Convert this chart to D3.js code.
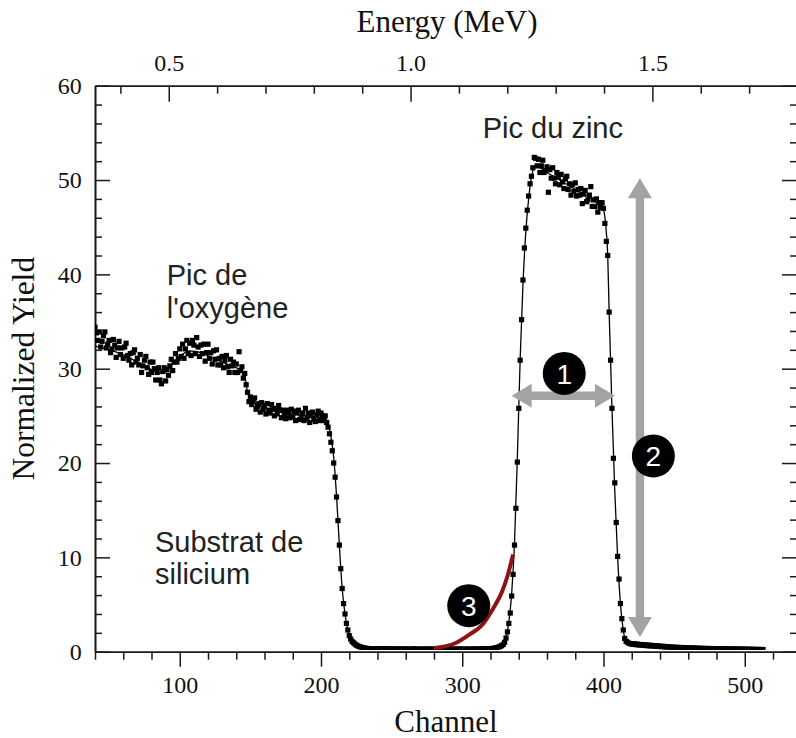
<!DOCTYPE html>
<html><head><meta charset="utf-8">
<script src="https://cdn.jsdelivr.net/npm/d3@7"></script>
<style>
html,body{margin:0;padding:0;background:#fff;}
svg{display:block;}
</style></head>
<body>
<script>
// ---- Data ----
const firstChannel = 40;
const yieldValues = [
// 40-49
34.4,33.8,33.0,33.9,32.3,32.9,33.5,33.9,32.2,32.6,
// 50-59
33.0,31.7,32.1,33.1,32.5,31.2,32.2,32.9,31.5,32.2,
// 60-69
31.1,32.3,32.7,31.4,30.9,31.6,30.4,31.7,32.0,30.7,
// 70-79
31.1,30.4,31.5,29.6,30.3,30.9,31.3,30.1,29.4,30.7,
// 80-89
29.6,30.7,30.0,28.8,29.6,30.1,28.8,28.4,29.7,30.1,
// 90-99
28.7,29.9,29.3,30.3,31.0,29.8,30.7,31.6,30.7,31.1,
// 100-109
32.1,31.3,32.6,31.1,32.1,33.0,31.6,32.7,31.4,33.0,
// 110-119
32.5,31.6,33.3,32.3,31.3,32.5,31.6,32.6,30.8,31.7,
// 120-129
32.6,31.1,31.7,30.5,31.9,31.0,32.0,30.4,31.1,30.4,
// 130-139
31.3,30.1,30.9,31.4,30.2,29.6,31.0,30.3,30.7,29.6,
// 140-149
30.5,29.6,31.8,29.8,30.2,29.0,29.5,28.3,27.5,26.5,
// 150-159
27.0,26.2,26.6,26.9,25.7,26.0,26.3,25.4,26.4,25.7,
// 160-169
26.1,25.2,26.3,25.6,25.3,26.2,25.7,25.0,25.8,25.2,
// 170-179
26.1,25.6,24.8,25.6,25.1,24.7,25.6,25.3,24.8,25.7,
// 180-189
24.9,25.5,24.5,25.3,25.6,24.6,24.9,25.3,24.5,25.8,
// 190-199
24.7,25.3,24.3,25.0,25.4,24.6,24.4,25.1,25.5,24.5,
// 200-209
25.3,25.0,24.5,25.0,24.3,23.8,23.1,22.2,21.3,20.0,
// 210-219
18.5,16.4,13.9,11.3,8.8,6.7,5.1,4.0,3.0,2.3,
// 220-229
1.7,1.35,1.1,0.95,0.82,0.7,0.62,0.55,0.5,0.45,
// 230-239
0.42,0.38,0.36,0.33,0.32,0.3,0.28,0.3,0.27,0.25,
// 240-249
0.30,0.27,0.31,0.26,0.29,0.32,0.25,0.28,0.30,0.26,
// 250-259
0.29,0.24,0.28,0.31,0.25,0.27,0.30,0.23,0.28,0.26,
// 260-269
0.30,0.25,0.27,0.24,0.29,0.26,0.31,0.24,0.27,0.25,
// 270-279
0.28,0.23,0.26,0.29,0.24,0.27,0.25,0.30,0.23,0.26,
// 280-289
0.28,0.24,0.26,0.29,0.23,0.27,0.25,0.28,0.24,0.26,
// 290-299
0.29,0.23,0.27,0.25,0.28,0.24,0.26,0.30,0.25,0.27,
// 300-309
0.24,0.28,0.26,0.23,0.29,0.25,0.27,0.24,0.30,0.26,
// 310-319
0.28,0.25,0.31,0.27,0.29,0.26,0.32,0.28,0.30,0.33,
// 320-329
0.31,0.35,0.33,0.38,0.41,0.45,0.5,0.58,0.65,0.78,
// 330-339
1.0,1.45,2.1,3.0,4.1,5.9,8.2,11.3,15.2,20.1,
// 340-349
25.8,30.9,35.2,39.4,42.8,44.9,46.8,48.3,49.6,50.4,
// 350-359
51.3,52.4,52.3,51.5,52.2,50.8,51.5,52.1,50.8,51.0,
// 360-369
51.4,48.7,51.1,50.2,51.3,50.2,49.6,50.8,50.3,49.5,
// 370-379
50.6,49.8,49.1,50.1,50.4,49.0,49.6,48.4,49.5,48.8,
// 380-389
49.7,48.3,49.0,48.4,49.1,47.5,48.5,48.9,47.7,47.9,
// 390-399
48.4,49.3,47.2,47.9,47.2,48.0,46.6,47.6,47.1,47.6,
// 400-409
47.0,45.4,43.5,42.0,36.0,30.9,25.8,20.5,17.9,13.7,
// 410-419
10.1,7.7,5.1,3.5,2.3,1.4,1.1,1.0,0.9,0.85,
// 420-429
0.82,0.78,0.85,0.74,0.8,0.71,0.77,0.69,0.75,0.66,
// 430-439
0.72,0.64,0.7,0.61,0.67,0.6,0.65,0.58,0.63,0.55,
// 440-449
0.6,0.53,0.57,0.5,0.55,0.48,0.52,0.46,0.5,0.45,
// 450-459
0.48,0.43,0.47,0.41,0.45,0.4,0.44,0.39,0.42,0.38,
// 460-469
0.41,0.37,0.4,0.36,0.39,0.35,0.38,0.34,0.37,0.33,
// 470-479
0.36,0.33,0.35,0.32,0.34,0.31,0.34,0.3,0.33,0.3,
// 480-489
0.32,0.29,0.31,0.29,0.31,0.28,0.3,0.28,0.3,0.27,
// 490-499
0.29,0.27,0.29,0.26,0.28,0.26,0.28,0.25,0.27,0.25,
// 500-509
0.27,0.25,0.26,0.24,0.26,0.24,0.25,0.23,0.25,0.23,
// 510-513
0.24,0.22,0.24,0.22
];

// Simulation (fit) curve
const fitChannels = [40,50,60,70,80,88,95,100,107,115,125,135,143,146,148,150,155,165,180,195,202,205,207,209,211,213,215,217,219,221,224,228,235,250,300,322,326,329,332,335,337,339,341,343,345,347,349,352,360,380,395,400,402,403,404,406,408,410,412,414,416,420,440,480,513];
const fitValues   = [32.4,32.0,31.5,30.7,29.9,29.5,30.5,31.3,31.9,31.7,31.0,30.4,29.8,29.2,27.5,26.8,26.2,25.6,25.2,24.9,24.8,24.2,22.8,20.6,16.5,11.3,6.7,4.0,2.3,1.4,0.85,0.5,0.3,0.25,0.25,0.3,0.45,0.7,2.2,6.2,11.5,20.5,31,39,44.5,48.0,50.3,51.5,50.8,49.0,47.6,46.8,44.5,42,36,25.8,17,10,5.1,2.3,1.1,0.8,0.55,0.35,0.3];

// Red highlight curve (tail of the zinc peak)
const redChannels = [280,295,305,315,322,328,332,336];
const redValues   = [0.4,0.9,1.8,3.0,4.6,6.3,8.0,10.3];

// Axes ticks
const channelMajorTicks = [100,200,300,400,500];
const channelMinorTicks = [40,60,80,120,140,160,180,220,240,260,280,320,340,360,380,420,440,460,480,520];
const yieldMajorTicks = [0,10,20,30,40,50,60];
const yieldMinorTicks = [2,4,6,8,12,14,16,18,22,24,26,28,32,34,36,38,42,44,46,48,52,54,56,58];
const energyMajorTicks = [0.5,1.0,1.5];
const energyMinorTicks = [0.4,0.6,0.7,0.8,0.9,1.1,1.2,1.3,1.4,1.6,1.7];
const energyTickLabels = ["0.5","1.0","1.5"];
const channelDomain = [40,537];
const yieldDomain = [0,60];
const energyDomain = [0.3475,1.799];

// Annotations (in data coordinates)
const textLabels = [
  {text:"Pic du zinc", ch:314.5, v:54.46},
  {text:"Pic de", ch:90.8, v:38.87},
  {text:"l'oxygène", ch:90.8, v:35.38},
  {text:"Substrat de", ch:82.5, v:10.6},
  {text:"silicium", ch:82.5, v:7.18}
];
const badges = [
  {n:"1", ch:372.2, v:29.5},
  {n:"2", ch:435.3, v:20.75},
  {n:"3", ch:304.6, v:4.88}
];
const hArrow = {ch0:335, ch1:408.1, v:27.14};
const vArrow = {ch:425.8, v0:1.55, v1:50.2};

// ---- Drawing ----
const W = 796, H = 738;
const plot = {left:95, right:797, top:85.7, bottom:651.7};
const svg = d3.select("body").append("svg").attr("width",W).attr("height",H);

const x = d3.scaleLinear().domain(channelDomain).range([plot.left, plot.right]);
const y = d3.scaleLinear().domain(yieldDomain).range([plot.bottom, plot.top]);
const xE = d3.scaleLinear().domain(energyDomain).range([plot.left, plot.right]);

const serif = "'Liberation Serif','Times New Roman',serif";
const sans = "'Liberation Sans',Arial,sans-serif";
const axisColor = "#1a1a1a";

function styleAxis(g){
  g.selectAll("path.domain").attr("stroke",axisColor).attr("stroke-width",1.6);
  g.selectAll(".tick line").attr("stroke",axisColor).attr("stroke-width",1.5);
  g.selectAll("text").attr("font-family",serif).attr("font-size",24).attr("fill","#111");
}

// bottom axis
const gb1 = svg.append("g").attr("transform",`translate(0,${plot.bottom})`)
  .call(d3.axisBottom(x).tickValues(channelMinorTicks).tickSize(8).tickSizeOuter(0).tickFormat(""));
styleAxis(gb1);
const gb2 = svg.append("g").attr("transform",`translate(0,${plot.bottom})`)
  .call(d3.axisBottom(x).tickValues(channelMajorTicks).tickSize(15).tickSizeOuter(0).tickFormat(d3.format("d")));
styleAxis(gb2);
gb2.selectAll("text").attr("y",41.6).attr("dy",null);

// top axis
const gt1 = svg.append("g").attr("transform",`translate(0,${plot.top})`)
  .call(d3.axisTop(xE).tickValues(energyMinorTicks).tickSize(-8).tickSizeOuter(0).tickFormat(""));
styleAxis(gt1);
const gt2 = svg.append("g").attr("transform",`translate(0,${plot.top})`)
  .call(d3.axisTop(xE).tickValues(energyMajorTicks).tickSize(-16).tickSizeOuter(0)
    .tickFormat((d,i)=>energyTickLabels[i]));
styleAxis(gt2);
gt2.selectAll("text").attr("y",-15).attr("dy",null);

// left axis
const gl1 = svg.append("g").attr("transform",`translate(${plot.left},0)`)
  .call(d3.axisLeft(y).tickValues(yieldMinorTicks).tickSize(-7).tickSizeOuter(0).tickFormat(""));
styleAxis(gl1);
const gl2 = svg.append("g").attr("transform",`translate(${plot.left},0)`)
  .call(d3.axisLeft(y).tickValues(yieldMajorTicks).tickSize(-15).tickSizeOuter(0).tickFormat(d3.format("d")));
styleAxis(gl2);
gl2.selectAll("text").attr("x",-13.3).attr("dy","0.33em");

// right axis
const gr1 = svg.append("g").attr("transform",`translate(${plot.right},0)`)
  .call(d3.axisRight(y).tickValues(yieldMinorTicks).tickSize(-7).tickSizeOuter(0).tickFormat(""));
styleAxis(gr1);
const gr2 = svg.append("g").attr("transform",`translate(${plot.right},0)`)
  .call(d3.axisRight(y).tickValues(yieldMajorTicks).tickSize(-15).tickSizeOuter(0).tickFormat(""));
styleAxis(gr2);

// axis titles
svg.append("text").attr("x",447).attr("y",31.7).attr("text-anchor","middle")
  .attr("font-family",serif).attr("font-size",31).attr("fill","#111").text("Energy (MeV)");
svg.append("text").attr("x",446).attr("y",731.5).attr("text-anchor","middle")
  .attr("font-family",serif).attr("font-size",31).attr("fill","#111").text("Channel");
svg.append("text").attr("transform",`translate(34,${(plot.top+plot.bottom)/2}) rotate(-90)`)
  .attr("text-anchor","middle").attr("font-family",serif).attr("font-size",31.5).attr("fill","#111")
  .text("Normalized Yield");

// data
const pts = yieldValues.map((v,i)=>({ch:firstChannel+i, v}));
const clip = svg.append("clipPath").attr("id","clip").append("rect")
  .attr("x",plot.left).attr("y",plot.top-5).attr("width",plot.right-plot.left).attr("height",plot.bottom-plot.top+3);

const gData = svg.append("g").attr("clip-path","url(#clip)");
gData.selectAll("rect.pt").data(pts).join("rect").attr("class","pt")
  .attr("x",d=>x(d.ch)-2.6).attr("y",d=>y(d.v)-2.6).attr("width",5.2).attr("height",5.2)
  .attr("fill","#000");

const fit = fitChannels.map((c,i)=>({ch:c, v:fitValues[i]}));
gData.append("path").datum(fit)
  .attr("d", d3.line().x(d=>x(d.ch)).y(d=>y(d.v)).curve(d3.curveMonotoneX))
  .attr("fill","none").attr("stroke","#000").attr("stroke-width",1.3);

// red curve
const red = redChannels.map((c,i)=>({ch:c, v:redValues[i]}));
svg.append("path").datum(red)
  .attr("d", d3.line().x(d=>x(d.ch)).y(d=>y(d.v)).curve(d3.curveMonotoneX))
  .attr("fill","none").attr("stroke","#8e1212").attr("stroke-width",4).attr("stroke-linecap","butt");

// arrows
const arrowColor = "#a3a3a3";
function doubleArrowPath(x0,y0,x1,y1){
  const L = Math.hypot(x1-x0,y1-y0), ux=(x1-x0)/L, uy=(y1-y0)/L, px=-uy, py=ux;
  const sw=4.2, hw=12, hl=20;
  const P=(a,b)=>[x0+ux*a+px*b, y0+uy*a+py*b];
  const p=[P(0,0),P(hl,hw),P(hl,sw),P(L-hl,sw),P(L-hl,hw),P(L,0),P(L-hl,-hw),P(L-hl,-sw),P(hl,-sw),P(hl,-hw)];
  return "M"+p.map(q=>q.join(",")).join("L")+"Z";
}
svg.append("path").attr("d",doubleArrowPath(x(hArrow.ch0),y(hArrow.v),x(hArrow.ch1),y(hArrow.v))).attr("fill",arrowColor);
svg.append("path").attr("d",doubleArrowPath(x(vArrow.ch),y(vArrow.v1),x(vArrow.ch),y(vArrow.v0))).attr("fill",arrowColor);

// badges
const gb = svg.selectAll("g.badge").data(badges).join("g").attr("class","badge")
  .attr("transform",d=>`translate(${x(d.ch)},${y(d.v)})`);
gb.append("circle").attr("r",21.5).attr("fill","#000");
gb.append("text").attr("text-anchor","middle").attr("dy","0.36em")
  .attr("font-family",sans).attr("font-size",28).attr("fill","#fff").text(d=>d.n);

// text labels
svg.selectAll("text.lbl").data(textLabels).join("text").attr("class","lbl")
  .attr("x",d=>x(d.ch)).attr("y",d=>y(d.v))
  .attr("font-family",sans).attr("font-size",29).attr("fill","#222").text(d=>d.text);
</script>
</body></html>
